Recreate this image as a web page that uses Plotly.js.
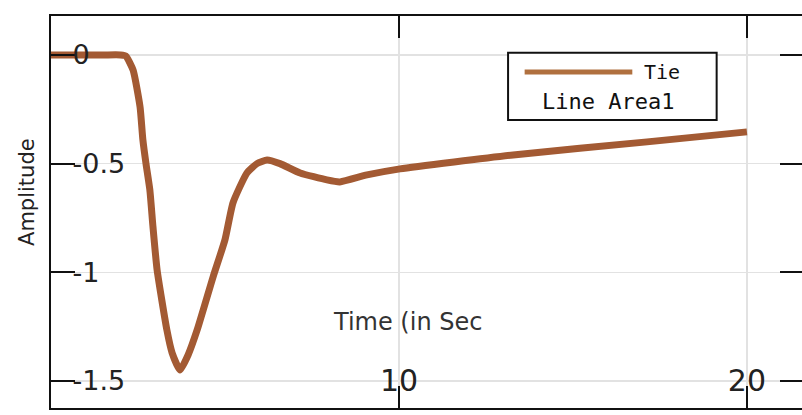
<!DOCTYPE html>
<html>
<head>
<meta charset="utf-8">
<script src="https://cdn.plot.ly/plotly-3.0.1.min.js"></script>
<style>
html,body{margin:0;padding:0;overflow:hidden;background:#fff;}
#chart{width:804px;height:415px;}
</style>
</head>
<body>
<div id="chart"></div>
<script>
// Time (s)
const timeSec = [0, 1.5, 2.0, 2.15, 2.36, 2.56, 2.64, 2.73, 2.84, 2.93, 3.05, 3.33, 3.48, 3.71, 3.94, 4.20, 4.66, 5.00, 5.23, 5.63, 5.92, 6.21, 6.58, 7.16, 7.93, 8.30, 9.08, 10.03, 13.28, 17.13, 20.0];
// Amplitude
const amplitude = [0, 0, 0, -0.005, -0.07, -0.24, -0.39, -0.50, -0.62, -0.79, -0.99, -1.265, -1.37, -1.449, -1.38, -1.265, -1.02, -0.85, -0.68, -0.543, -0.50, -0.483, -0.50, -0.543, -0.575, -0.584, -0.552, -0.524, -0.46, -0.40, -0.354];
const seriesName = "Tie Line Area1";
const xTickVals = [10, 20];
const xTickText = ["10", "20"];
const yTickVals = [0, -0.5, -1, -1.5];
const yTickText = ["0", "-0.5", "-1", "-1.5"];

const lineColor = "#a35a33";

const trace = {
  x: timeSec, y: amplitude, type: "scatter", mode: "lines",
  name: seriesName, showlegend: false,
  line: {color: lineColor, width: 7, shape: "spline", smoothing: 0.5}
};

const layout = {
  width: 804, height: 415,
  margin: {l: 51, r: 0, t: 16, b: 7},
  paper_bgcolor: "#fff", plot_bgcolor: "#fff",
  showlegend: false,
  xaxis: {
    range: [0, 21.64],
    tickvals: xTickVals, ticktext: xTickText,
    ticks: "inside", ticklen: 22, tickwidth: 2, tickcolor: "#111",
    ticklabelposition: "outside", ticklabelstandoff: -55,
    showline: true, linecolor: "#111", linewidth: 2, mirror: "allticks",
    showgrid: true, gridcolor: "#e2e2e2", gridwidth: 1.5,
    zeroline: false, automargin: false,
    tickfont: {family: "DejaVu Sans", size: 30, color: "#222"}
  },
  yaxis: {
    range: [-1.624, 0.179],
    tickvals: yTickVals, ticktext: yTickText,
    ticks: "inside", ticklen: 24, tickwidth: 2, tickcolor: "#111",
    ticklabelposition: "inside",
    showline: true, linecolor: "#111", linewidth: 2, mirror: "allticks",
    showgrid: true, gridcolor: "#e2e2e2", gridwidth: 1.5,
    zeroline: false, automargin: false,
    tickfont: {family: "DejaVu Sans", size: 27, color: "#222"}
  },
  shapes: [
    {type: "rect", xref: "paper", yref: "paper", x0: 0.607, x1: 0.884, y0: 0.735, y1: 0.906,
     line: {color: "#111", width: 2}, fillcolor: "#fff"},
    {type: "line", xref: "paper", yref: "paper", x0: 0.629, x1: 0.772, y0: 0.857, y1: 0.857,
     line: {color: "#b0703f", width: 5}}
  ],
  annotations: [
    {text: "Amplitude", xref: "paper", yref: "paper", x: -0.0319, y: 0.551,
     textangle: -90, showarrow: false, xanchor: "center", yanchor: "middle",
     font: {family: "DejaVu Sans", size: 21, color: "#222"}},
    {text: "Time (in Sec", xref: "paper", yref: "paper", x: 0.473, y: 0.219,
     showarrow: false, xanchor: "center", yanchor: "middle",
     font: {family: "DejaVu Sans", size: 24, color: "#333"}},
    {text: "Tie", xref: "paper", yref: "paper", x: 0.785, y: 0.857,
     showarrow: false, xanchor: "left", yanchor: "middle",
     font: {family: "DejaVu Sans Mono", size: 20, color: "#111"}},
    {text: "Line Area1", xref: "paper", yref: "paper", x: 0.649, y: 0.781,
     showarrow: false, xanchor: "left", yanchor: "middle",
     font: {family: "DejaVu Sans Mono", size: 22, color: "#111"}}
  ]
};

Plotly.newPlot("chart", [trace], layout, {displayModeBar: false, staticPlot: true});
</script>
</body>
</html>
